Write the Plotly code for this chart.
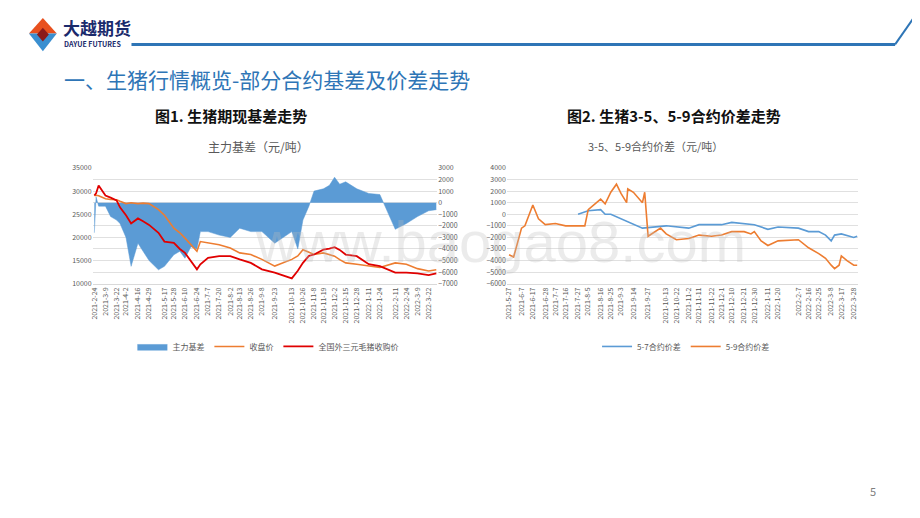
import plotly.graph_objects as go

# ---------- Left chart data ----------
l_dates = ["2021-02-24","2021-02-26","2021-03-01","2021-03-09","2021-03-15","2021-03-22","2021-03-26","2021-04-02","2021-04-08","2021-04-16","2021-04-22",
           "2021-04-29","2021-05-10","2021-05-17","2021-05-28","2021-06-04","2021-06-10","2021-06-17","2021-06-24","2021-06-28","2021-07-07","2021-07-20",
           "2021-08-02","2021-08-13","2021-08-26","2021-09-08","2021-09-23","2021-10-13","2021-10-20","2021-10-26","2021-11-02","2021-11-08","2021-11-19",
           "2021-11-26","2021-12-02","2021-12-08","2021-12-15","2021-12-28","2022-01-11","2022-01-24","2022-02-11","2022-02-24","2022-03-09","2022-03-22","2022-03-31"]
basis = [-2600,500,-300,-300,-1200,-1500,-1800,-3000,-5500,-3500,-4200,
         -5000,-5800,-5500,-4500,-4200,-4800,-3800,-4000,-2500,-2500,-2800,
         -3000,-2200,-2500,-2500,-3500,-2500,-4000,-1500,-300,1000,1200,
         1500,2200,1600,1800,1200,800,700,-2300,-1800,-1200,-700,-600]
close = [29050,29100,29000,28340,28200,28130,27800,27300,27500,27300,27400,
         27300,26000,24800,22000,21000,19850,18500,17000,19100,18800,18400,
         17700,16650,16300,15250,13800,15250,16000,17350,16800,16300,16650,
         16300,15950,15200,14500,14200,13800,13500,14500,14200,13250,12750,13000]
spot = [29050,29500,31200,29050,28600,28000,26500,24800,23000,24100,23500,
        22700,21000,19100,18800,17500,16650,15000,13100,14200,15600,15950,
        15950,15250,14500,13100,12400,11150,12800,14500,16000,16300,17350,
        17600,17900,17300,16300,15950,14200,13800,12400,12400,12250,11850,12250]
l_tick_labels = ["2021-2-24","2021-3-9","2021-3-22","2021-4-2","2021-4-16","2021-4-29","2021-5-17","2021-5-28","2021-6-10","2021-6-24",
                 "2021-7-7","2021-7-20","2021-8-2","2021-8-13","2021-8-26","2021-9-8","2021-9-23","2021-10-13","2021-10-26","2021-11-8",
                 "2021-11-19","2021-12-2","2021-12-15","2021-12-28","2022-1-11","2022-1-24","2022-2-11","2022-2-24","2022-3-9","2022-3-22"]

# ---------- Right chart data ----------
r_dates59 = ["2021-05-27","2021-05-31","2021-06-07","2021-06-10","2021-06-17","2021-06-22","2021-06-28","2021-07-07","2021-07-16","2021-07-27",
             "2021-08-02","2021-08-05","2021-08-16","2021-08-20","2021-08-25","2021-08-30","2021-09-03","2021-09-08","2021-09-09","2021-09-14",
             "2021-09-22","2021-09-24","2021-09-27","2021-10-08","2021-10-13","2021-10-22","2021-11-02","2021-11-11","2021-11-22","2021-12-01",
             "2021-12-10","2021-12-21","2021-12-27","2021-12-30","2022-01-05","2022-01-11","2022-01-20","2022-02-07","2022-02-11","2022-02-16",
             "2022-02-25","2022-03-03","2022-03-08","2022-03-11","2022-03-15","2022-03-17","2022-03-22","2022-03-28","2022-03-31"]
spread59 = [-3500,-3700,-1200,-1000,800,-400,-900,-800,-1000,-1000,
            -1000,400,1300,900,1900,2600,1800,1000,2200,1900,
            1000,1900,-1900,-1200,-1700,-2200,-2100,-1800,-1900,-1800,
            -1500,-1500,-1700,-1500,-2300,-2700,-2300,-2200,-2500,-2900,
            -3400,-3800,-4400,-4700,-4400,-3600,-4000,-4400,-4400]
r_dates57 = ["2021-07-27","2021-08-05","2021-08-16","2021-08-20","2021-08-25","2021-09-03","2021-09-14","2021-09-22","2021-10-13","2021-10-22",
             "2021-11-02","2021-11-11","2021-11-22","2021-12-01","2021-12-10","2021-12-21","2021-12-30","2022-01-11","2022-01-20","2022-02-07",
             "2022-02-16","2022-02-25","2022-03-03","2022-03-08","2022-03-11","2022-03-17","2022-03-28","2022-03-31"]
spread57 = [0,300,400,0,0,-400,-900,-1200,-1000,-1100,
            -1200,-900,-900,-900,-700,-800,-900,-1300,-1100,-1200,
            -1500,-1500,-1800,-2300,-1800,-1700,-2000,-1900]
r_tick_labels = ["2021-5-27","2021-6-7","2021-6-17","2021-6-28","2021-7-7","2021-7-16","2021-7-27","2021-8-5","2021-8-16","2021-8-25",
                 "2021-9-3","2021-9-14","2021-9-27","2021-10-13","2021-10-22","2021-11-2","2021-11-11","2021-11-22","2021-12-1","2021-12-10",
                 "2021-12-21","2021-12-30","2022-1-11","2022-1-20","2022-2-7","2022-2-16","2022-2-25","2022-3-8","2022-3-17","2022-3-28"]

def iso(s):
    y, m, d = s.split("-")
    return f"{y}-{int(m):02d}-{int(d):02d}"

W, H, OFF = 920, 518, 8
def PX(x):
    return (x - OFF) / W
def PY(y):
    return 1 - (y - OFF) / H

FONT = "Noto Sans CJK SC"
fig = go.Figure()
fig.add_trace(go.Scatter(x=l_dates, y=basis, name="主力基差", mode="lines", line=dict(width=0.5, color="#5b9bd5"),
                         fill="tozeroy", fillcolor="#5b9bd5", xaxis="x", yaxis="y", legend="legend"))
fig.add_trace(go.Scatter(x=l_dates, y=close, name="收盘价", mode="lines", line=dict(width=1.6, color="#ed7d31"),
                         xaxis="x", yaxis="y2", legend="legend"))
fig.add_trace(go.Scatter(x=l_dates, y=spot, name="全国外三元毛猪收购价", mode="lines", line=dict(width=1.8, color="#e00000"),
                         xaxis="x", yaxis="y2", legend="legend"))
fig.add_trace(go.Scatter(x=r_dates57, y=spread57, name="5-7合约价差", mode="lines", line=dict(width=1.6, color="#5b9bd5"),
                         xaxis="x3", yaxis="y3", legend="legend2"))
fig.add_trace(go.Scatter(x=r_dates59, y=spread59, name="5-9合约价差", mode="lines", line=dict(width=1.6, color="#ed7d31"),
                         xaxis="x3", yaxis="y3", legend="legend2"))

tickf = dict(size=7, color="#595959", family=FONT)
ydom = [PY(283), PY(165)]
fig.update_layout(
    width=W, height=H, margin=dict(l=0, r=0, t=0, b=0),
    paper_bgcolor="white", plot_bgcolor="white", font=dict(family=FONT),
    xaxis=dict(domain=[PX(89), PX(435)], anchor="y", type="date", range=["2021-02-22", "2022-04-01"],
               tickvals=[iso(t) for t in l_tick_labels], ticktext=l_tick_labels, tickangle=-90, tickfont=tickf,
               showgrid=False, showline=True, linecolor="#d9d9d9", ticks=""),
    yaxis=dict(domain=ydom, anchor="x", side="right", range=[-7000, 3000], dtick=1000, tickformat="d",
               tickfont=tickf, showgrid=True, gridcolor="#e0e0e0", zeroline=False),
    yaxis2=dict(overlaying="y", anchor="x", side="left", range=[10000, 35000], dtick=5000, tickformat="d",
                tickfont=tickf, showgrid=False, zeroline=False),
    xaxis3=dict(domain=[PX(505), PX(858)], anchor="y3", type="date", range=["2021-05-25", "2022-04-01"],
                tickvals=[iso(t) for t in r_tick_labels], ticktext=r_tick_labels, tickangle=-90, tickfont=tickf,
                showgrid=False, showline=True, linecolor="#d9d9d9", ticks=""),
    yaxis3=dict(domain=ydom, anchor="x3", range=[-6000, 4000], dtick=1000, tickformat="d",
                tickfont=tickf, showgrid=True, gridcolor="#e0e0e0", zeroline=False),
    legend=dict(orientation="h", x=PX(265), y=PY(347), xanchor="center", yanchor="middle",
                font=dict(size=8, color="#595959", family=FONT), itemwidth=30),
    legend2=dict(orientation="h", x=PX(685), y=PY(347), xanchor="center", yanchor="middle",
                 font=dict(size=8, color="#595959", family=FONT), itemwidth=30),
)

ann = [
    dict(text="一、生猪行情概览-部分合约基差及价差走势", x=58, y=74, font=dict(size=21, color="#2e75b6")),
    dict(text="<b>图1. 生猪期现基差走势</b>", x=150, y=112, font=dict(size=15, color="#111")),
    dict(text="<b>图2. 生猪3-5、5-9合约价差走势</b>", x=563, y=112, font=dict(size=15, color="#111")),
    dict(text="主力基差（元/吨）", x=203, y=143, font=dict(size=12, color="#595959")),
    dict(text="3-5、5-9合约价差（元/吨）", x=585, y=143, font=dict(size=11, color="#595959")),
    dict(text="<b>大越期货</b>", x=57, y=22, font=dict(size=17, color="#1a2a6c")),
    dict(text="<b>DAYUE FUTURES</b>", x=58, y=39, font=dict(size=7, color="#1a2a6c")),
    dict(text="5", x=868, y=494, font=dict(size=11, color="#7f7f7f")),
    dict(text="www.baogao8.com", x=250, y=240, font=dict(size=58, color="rgba(190,190,190,0.3)", family="Arial")),
]
fig.update_layout(annotations=[dict(a, xref="paper", yref="paper", x=PX(a["x"]), y=PY(a["y"]),
                                    xanchor="left", yanchor="middle", showarrow=False) for a in ann])

def pt(x, y):
    return PX(x), PY(y)
shapes = []
x0, y0 = pt(128, 39); x1, y1 = pt(895, 39); x2, y2 = pt(915, 10)
shapes.append(dict(type="line", xref="paper", yref="paper", x0=x0, y0=y0, x1=x1, y1=y1, line=dict(color="#2e75b6", width=3)))
shapes.append(dict(type="line", xref="paper", yref="paper", x0=x1, y0=y1, x1=x2, y1=y2, line=dict(color="#2e75b6", width=2)))
def poly(points, color):
    p = [pt(*q) for q in points]
    path = "M" + " L".join(f"{a},{b}" for a, b in p) + " Z"
    return dict(type="path", xref="paper", yref="paper", path=path, fillcolor=color, line=dict(width=0))
shapes.append(poly([(39, 12), (53, 28), (25, 28)], "#e8501e"))
shapes.append(poly([(25, 28), (53, 28), (39, 46)], "#3a8fd0"))
shapes.append(poly([(39, 22), (45, 29), (39, 36), (33, 29)], "#8b1a1a"))
fig.update_layout(shapes=shapes)

fig.write_html("out.html")
